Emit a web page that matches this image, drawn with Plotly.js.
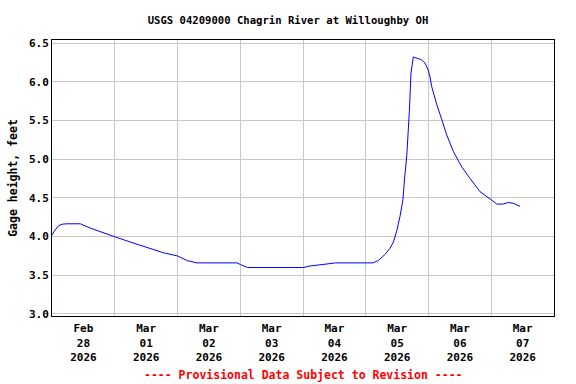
<!DOCTYPE html>
<html>
<head>
<meta charset="utf-8">
<script src="https://cdn.plot.ly/plotly-3.0.1.min.js"></script>
<style>html,body{margin:0;padding:0;background:#fff;}#chart{width:576px;height:384px;}</style>
</head>
<body>
<div id="chart"></div>
<script>
// Gage height readings (feet)
const times = [
  '2026-02-28 00:00','2026-02-28 00:54','2026-02-28 02:30','2026-02-28 03:54','2026-02-28 05:42',
  '2026-02-28 10:48','2026-02-28 14:36','2026-02-28 18:30','2026-02-28 23:48',
  '2026-03-01 05:54','2026-03-01 13:36','2026-03-01 18:42',
  '2026-03-02 00:00','2026-03-02 03:42','2026-03-02 07:24','2026-03-02 22:42',
  '2026-03-03 00:00','2026-03-03 02:48',
  '2026-03-04 00:12','2026-03-04 02:42','2026-03-04 07:42','2026-03-04 12:30',
  '2026-03-05 02:42','2026-03-05 04:48','2026-03-05 07:24','2026-03-05 09:18','2026-03-05 10:36',
  '2026-03-05 11:54','2026-03-05 13:06','2026-03-05 14:12','2026-03-05 14:48','2026-03-05 15:42',
  '2026-03-05 16:42','2026-03-05 17:18','2026-03-05 18:12','2026-03-05 19:30','2026-03-05 20:48',
  '2026-03-05 21:24','2026-03-05 22:42','2026-03-05 23:54',
  '2026-03-06 00:36','2026-03-06 01:12','2026-03-06 03:12','2026-03-06 05:06','2026-03-06 07:00',
  '2026-03-06 09:30','2026-03-06 12:42','2026-03-06 15:54','2026-03-06 19:42',
  '2026-03-07 00:12','2026-03-07 02:06','2026-03-07 04:36','2026-03-07 06:30','2026-03-07 08:24',
  '2026-03-07 11:00'
];
const gageHeight = [
  4.02, 4.07, 4.14, 4.16, 4.165,
  4.165, 4.11, 4.06, 4.00,
  3.93, 3.84, 3.79,
  3.75, 3.69, 3.66, 3.66,
  3.64, 3.60,
  3.60, 3.62, 3.64, 3.66,
  3.66, 3.69, 3.77, 3.85, 3.93,
  4.08, 4.26, 4.47, 4.73, 5.05,
  5.63, 6.11, 6.32, 6.31, 6.29,
  6.28, 6.24, 6.15,
  6.06, 5.94, 5.70, 5.51, 5.31,
  5.10, 4.90, 4.75, 4.58,
  4.47, 4.42, 4.42, 4.44, 4.43,
  4.39
];
const dayTickVals = ['2026-02-28 12:00','2026-03-01 12:00','2026-03-02 12:00','2026-03-03 12:00',
  '2026-03-04 12:00','2026-03-05 12:00','2026-03-06 12:00','2026-03-07 12:00'];
const dayTickText = ['Feb<br>28<br>2026','Mar<br>01<br>2026','Mar<br>02<br>2026','Mar<br>03<br>2026',
  'Mar<br>04<br>2026','Mar<br>05<br>2026','Mar<br>06<br>2026','Mar<br>07<br>2026'];
const yTickVals = [3.0, 3.5, 4.0, 4.5, 5.0, 5.5, 6.0, 6.5];

const FONT = '"DejaVu Sans Mono", "Liberation Mono", monospace';

const trace = {
  x: times, y: gageHeight, type: 'scatter', mode: 'lines',
  line: {color: '#0000ff', width: 1}, hoverinfo: 'skip'
};

const layout = {
  width: 576, height: 384,
  margin: {l: 52, r: 22, t: 40, b: 68},
  paper_bgcolor: '#ffffff', plot_bgcolor: '#ffffff',
  showlegend: false,
  font: {family: FONT, size: 11, color: '#000000', weight: 'bold'},
  title: {
    text: '<b>USGS 04209000 Chagrin River at Willoughby OH</b>',
    font: {family: FONT, size: 10.6, color: '#000000'},
    x: 0.5, xref: 'container', xanchor: 'center', y: 0.947, yref: 'container', yanchor: 'middle'
  },
  xaxis: {
    type: 'date',
    range: ['2026-02-28 00:00', '2026-03-08 00:00'],
    tickmode: 'array', tickvals: dayTickVals, ticktext: dayTickText,
    ticks: '', ticklabelstandoff: 2, showgrid: false, zeroline: false,
    showline: true, linecolor: '#000000', linewidth: 1, mirror: true,
    tickfont: {family: FONT, size: 11, color: '#000000', weight: 'bold'},
    minor: {dtick: 86400000, tick0: '2026-02-28', showgrid: true, gridcolor: '#c8c8c8', gridwidth: 1, ticks: ''}
  },
  yaxis: {
    range: [2.974, 6.539],
    tickmode: 'array', tickvals: yTickVals, tickformat: '.1f',
    ticks: '', showgrid: true, gridcolor: '#c8c8c8', gridwidth: 1, zeroline: false,
    showline: true, linecolor: '#000000', linewidth: 1, mirror: true,
    tickfont: {family: FONT, size: 11, color: '#000000', weight: 'bold'},
    title: {text: '<b>Gage height, feet</b>', font: {family: FONT, size: 11.5, color: '#000000'}, standoff: 8}
  },
  annotations: [{
    text: '<b>---- Provisional Data Subject to Revision ----</b>',
    xref: 'paper', yref: 'paper', x: 0.5, y: -0.215, xanchor: 'center', yanchor: 'middle',
    showarrow: false, font: {family: FONT, size: 11.5, color: '#ff0000'}
  }]
};

Plotly.newPlot('chart', [trace], layout, {staticPlot: true, displayModeBar: false});
</script>
</body>
</html>
